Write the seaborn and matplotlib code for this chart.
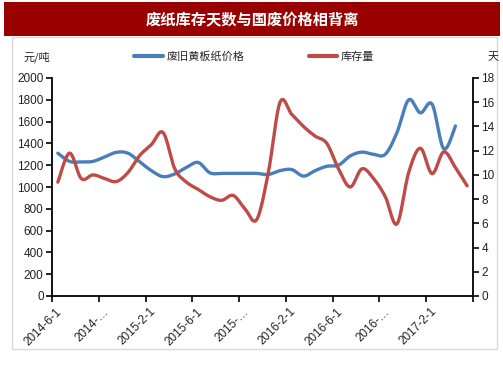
import numpy as np
import pandas as pd
import matplotlib
matplotlib.use("Agg")
import matplotlib.pyplot as plt
import matplotlib.transforms as mtransforms
import seaborn as sns
from matplotlib.patches import Rectangle
from matplotlib.lines import Line2D

# ---- data (monthly, 2014-6 .. 2017-5) ----
months = pd.date_range("2014-06-01", periods=36, freq="MS").strftime("%Y-%m").tolist()
price = [1310, 1235, 1230, 1235, 1275, 1318, 1310, 1230, 1150, 1095, 1120, 1180,
         1225, 1130, 1125, 1125, 1125, 1125, 1115, 1150, 1160, 1100, 1150, 1190,
         1200, 1285, 1320, 1300, 1300, 1500, 1800, 1680, 1760, 1350, 1560]
stock = [9.4, 11.8, 9.7, 10.0, 9.7, 9.45, 10.2, 11.6, 12.5, 13.5, 10.5, 9.4,
         8.8, 8.2, 7.9, 8.3, 7.2, 6.3, 10.2, 16.0, 15.0, 14.0, 13.2, 12.6,
         10.5, 9.0, 10.5, 9.7, 8.2, 5.95, 10.2, 12.2, 10.1, 11.9, 10.6, 9.1]
tick_labels = ["2014-6-1", "2014-…", "2015-2-1", "2015-6-1", "2015-…",
               "2016-2-1", "2016-6-1", "2016-…", "2017-2-1", ""]
left_ticks = list(range(0, 2001, 200))
right_ticks = list(range(0, 19, 2))
title = "废纸库存天数与国废价格相背离"
name_price = "废旧黄板纸价格"
name_stock = "库存量"
unit_left = "元/吨"
unit_right = "天"

BLUE = "#4A7EBB"
RED = "#BE4B48"


def smooth(xv, yv, n=12):
    """Catmull-Rom spline through the data points (for a smoothed line look)."""
    P = np.column_stack([xv, yv]).astype(float)
    P = np.vstack([P[0], P, P[-1]])
    out = []
    t = np.linspace(0, 1, n, endpoint=False)
    for i in range(1, len(P) - 2):
        p0, p1, p2, p3 = P[i - 1], P[i], P[i + 1], P[i + 2]
        t2, t3 = t * t, t * t * t
        seg = 0.5 * ((2 * p1)[None, :] + (-p0 + p2)[None, :] * t[:, None]
                     + (2 * p0 - 5 * p1 + 4 * p2 - p3)[None, :] * t2[:, None]
                     + (-p0 + 3 * p1 - 3 * p2 + p3)[None, :] * t3[:, None])
        out.append(seg)
    out.append(P[-2][None, :])
    out = np.vstack(out)
    return out[:, 0], out[:, 1]


sns.set_style("white")
plt.rcParams["font.family"] = ["Liberation Sans", "Noto Sans CJK SC", "DejaVu Sans"]

W, H = 503, 378
fig = plt.figure(figsize=(W / 100, H / 100), dpi=100)

# title bar and frame
fig.patches.append(Rectangle((4 / W, 1 - 36 / H), 496 / W, 34 / H, transform=fig.transFigure,
                             facecolor="#990000", edgecolor="none", zorder=0))
fig.patches.append(Rectangle((12 / W, 1 - 349 / H), 485 / W, 312 / H, transform=fig.transFigure,
                             facecolor="none", edgecolor="#D9D9D9", lw=1, zorder=0))
fig.text(252 / W, 1 - 19 / H, title, color="white", fontsize=11, fontweight="bold",
         ha="center", va="center", family=["Noto Sans CJK SC", "DejaVu Sans"])

ax = fig.add_axes([52 / W, 1 - 296 / H, 421 / W, 218 / H])
ax2 = ax.twinx()

x_idx = np.arange(len(months))
bx, by = smooth(x_idx[:len(price)], price)
rx, ry = smooth(x_idx, stock)
sns.lineplot(x=bx, y=by, ax=ax, sort=False, color=BLUE, lw=2.4, estimator=None)
sns.lineplot(x=rx, y=ry, ax=ax2, sort=False, color=RED, lw=2.4, estimator=None)

ax.set_xlim(-0.5, len(months) - 0.5)
ax.set_ylim(0, 2000)
ax2.set_ylim(0, 18)
ax.set_yticks(left_ticks)
ax2.set_yticks(right_ticks)
ax.set_xticks(np.arange(-0.5, len(months), 4))
ax.set_xticklabels(tick_labels, rotation=45, ha="right", rotation_mode="anchor")
for a in (ax, ax2):
    a.set_xlabel("")
    a.set_ylabel("")
    for s in a.spines.values():
        s.set_color("black")
        s.set_linewidth(1.3)
    a.spines["top"].set_visible(False)
    a.tick_params(axis="both", which="major", labelsize=8.5, length=4, width=1.2,
                  color="black", labelcolor="#222222", direction="out", pad=2)
    a.grid(False)
ax.spines["right"].set_visible(False)
ax2.spines["left"].set_visible(False)
ax2.spines["bottom"].set_visible(False)
ax.tick_params(axis="y", left=True, right=False)
ax.tick_params(axis="x", bottom=True, labelsize=8.5, pad=3)
ax2.tick_params(axis="y", right=True, left=False)
shift = mtransforms.ScaledTranslation(4 / 100, 0, fig.dpi_scale_trans)
for lab in ax.get_xticklabels():
    lab.set_transform(lab.get_transform() + shift)

# units
fig.text(37 / W, 1 - 57 / H, unit_left, fontsize=8, ha="center", va="center",
         family=["Noto Sans CJK SC", "DejaVu Sans"], color="#222222")
fig.text(493 / W, 1 - 57 / H, unit_right, fontsize=8, ha="center", va="center",
         family=["Noto Sans CJK SC", "DejaVu Sans"], color="#222222")

# legend
handles = [Line2D([], [], color=BLUE, lw=3), Line2D([], [], color=RED, lw=3)]
fig.legend(handles, [name_price, name_stock], ncol=2, frameon=False,
           loc="center left", bbox_to_anchor=(124 / W, 1 - 57 / H),
           prop={"family": ["Noto Sans CJK SC", "DejaVu Sans"], "size": 8},
           handlelength=2.6, handletextpad=0.3, columnspacing=5.8)

fig.savefig("out.png", dpi=100)
